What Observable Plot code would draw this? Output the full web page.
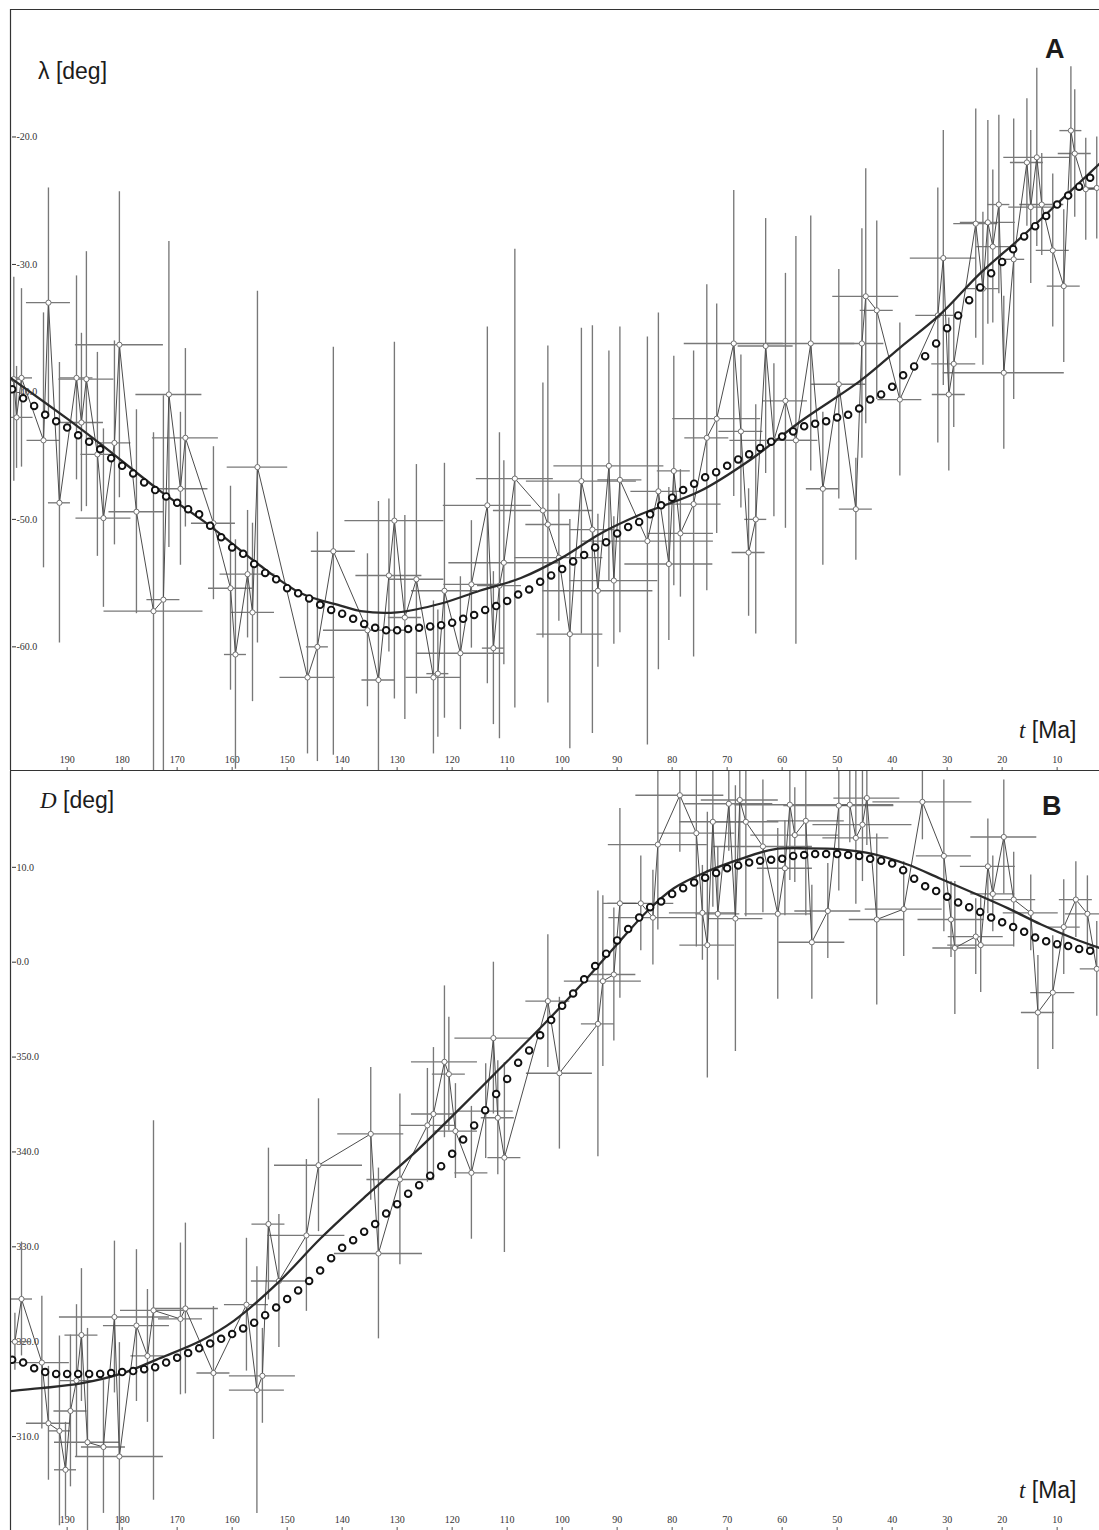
<!DOCTYPE html>
<html>
<head>
<meta charset="utf-8">
<script src="https://cdn.jsdelivr.net/npm/d3@7"></script>
<script src="https://cdn.jsdelivr.net/npm/@observablehq/plot@0.6"></script>
<style>
  html, body { margin: 0; padding: 0; background: #fff; overflow: hidden; }
  #wrap { position: relative; width: 1099px; height: 1530px; }
  .panel { position: absolute; left: 0; }
  .lbl { position: absolute; font-family: "Liberation Sans", Arial, sans-serif; color: #1c1c1c;
         white-space: nowrap; line-height: 1; z-index: 2; }
  .it { font-family: "Liberation Serif", "Times New Roman", serif; font-style: italic; }
  .tag { font-weight: bold; }
</style>
</head>
<body>
<div id="wrap">
  <div id="panelA" class="panel" style="top:0px"></div>
  <div id="panelB" class="panel" style="top:771px"></div>
  <div class="lbl" style="left:38px;top:60px;font-size:23px">λ [deg]</div>
  <div class="lbl tag" style="left:1045px;top:36px;font-size:27px">A</div>
  <div class="lbl" style="left:1019px;top:719px;font-size:23px"><span class="it">t</span> [Ma]</div>
  <div class="lbl" style="left:40px;top:789px;font-size:23px"><span class="it">D</span> [deg]</div>
  <div class="lbl tag" style="left:1042px;top:793px;font-size:27px">B</div>
  <div class="lbl" style="left:1019px;top:1479px;font-size:23px"><span class="it">t</span> [Ma]</div>
</div>
<script>
// ---- shared time axis (Ma, older to the left) ----
const ageDomain = [200.3, 2.3];
const ageTicks = [190, 180, 170, 160, 150, 140, 130, 120, 110, 100, 90, 80, 70, 60, 50, 40, 30, 20, 10];

// ---- panel A: palaeolatitude λ ----
const latDomain = [-69.7, -10];
const latTicks = [-20, -30, -40, -50, -60];

// observed poles: age, λ, age half-error, λ half-error
const ageA = [199.7,199.2,198.3,194.3,193.4,191.4,188.3,187.4,186.5,184.5,
  183.4,181.4,180.5,177.4,174.3,172.5,171.5,169.4,168.5,163.4,
  160.3,159.4,157.2,156.3,155.4,146.3,144.5,141.6,135.4,133.4,
  131.5,130.5,128.6,126.5,123.4,122.6,121.4,118.5,116.5,113.6,
  112.5,111.4,110.6,108.6,103.5,102.6,100.6,98.6,96.5,94.5,
  93.5,91.5,90.6,89.5,84.5,82.5,80.6,79.7,78.5,76.1,
  73.7,71.9,68.8,67.5,66.1,64.8,63.0,61.5,59.4,57.5,
  54.8,52.6,49.7,46.6,45.5,44.8,42.8,38.6,31.7,30.7,
  29.7,28.8,24.8,23.5,22.6,21.7,20.6,19.7,17.9,15.5,
  14.8,13.7,12.8,10.8,8.8,7.5,6.8,4.8,2.8];
const latA = [-39.0,-42.0,-38.9,-43.8,-33.0,-48.7,-38.9,-42.4,-39.0,-44.9,
  -49.9,-44.0,-36.3,-49.4,-57.2,-56.3,-40.2,-47.6,-43.6,-50.3,
  -55.4,-60.6,-54.3,-57.3,-45.9,-62.4,-60.0,-52.5,-58.7,-62.6,
  -54.4,-50.1,-57.7,-54.7,-62.4,-62.1,-55.6,-60.5,-55.1,-48.9,
  -60.1,-55.2,-53.4,-46.8,-49.3,-50.4,-53.0,-59.0,-47.0,-50.8,
  -55.6,-45.8,-54.8,-46.9,-51.7,-47.8,-53.5,-46.2,-51.1,-48.8,
  -43.6,-42.1,-36.2,-43.1,-52.6,-50.0,-36.4,-43.8,-40.7,-43.8,
  -36.2,-47.6,-39.4,-49.2,-36.2,-32.5,-33.6,-40.6,-34.0,-29.5,
  -40.2,-37.8,-26.8,-31.9,-26.7,-28.6,-25.3,-38.5,-29.6,-22.0,
  -25.5,-21.6,-25.3,-28.9,-31.7,-19.5,-21.3,-24.1,-24.0];
const ageErrA = [2,3,2,3,4,2,3,4,5,3,
  5,3,8,5,9,3,6,5,6,4,
  4,2,5,4,5.5,5,2,4,8,3,
  6,9,3,5,5,2,6,8,5,8,
  2,4,10,7,9,4,8,6,10,4,
  10,10,8,4,12,5,8,3,6,5,
  4,8,9,4,3,2,5,8,4,3,
  8,3,5,3,4,6,3,4,4,6,
  3,4,4,3,5,3,2,11,2,3,
  4,6,4,3,3,2,3,2,2];
const latErrA = [8,4,7,10,9,11,8,7,10,8,
  7,8,12,8,14,16,12,6,7,6,
  8,9,5,7,13.8,6,9,16,6,14,
  6,14,8,9,6,5,10,6,5,14,
  6,12,8,18,10,14,5,9,12,16,
  6,9,5,12,16,14,6,9,5,12,
  12,9,12,6,5,9,10,6,10,16,
  10,6,9,4,9,10,7,6,10,10,
  6,5,9,6,8,6,7,6,11,5,
  6,7,4,6,6,5,5,4,4];

// smoothed path λ(t)
const fitAgeA = [200.3,190,183.9,173,165,155,147.5,140,136.6,130,122,115,107.5,100,93,85.7,75,65.7,56.6,45.7,38.5,31.2,24,16.6,9.4,2.3];
const fitLatA = [-38.9,-42.1,-44.1,-47.8,-50.2,-53.6,-55.8,-56.8,-57.2,-57.3,-56.6,-55.6,-54.6,-53.0,-51.1,-49.6,-47.8,-45.3,-42.3,-39.1,-36.5,-33.9,-30.7,-27.9,-25.0,-22.1];

// model prediction, every 2 Ma
const modelAge = [200,198,196,194,192,190,188,186,184,182,180,178,176,174,172,170,168,166,164,162,
  160,158,156,154,152,150,148,146,144,142,140,138,136,134,132,130,128,126,124,122,
  120,118,116,114,112,110,108,106,104,102,100,98,96,94,92,90,88,86,84,82,
  80,78,76,74,72,70,68,66,64,62,60,58,56,54,52,50,48,46,44,42,
  40,38,36,34,32,30,28,26,24,22,20,18,16,14,12,10,8,6,4];
const modelLatA = [-39.8,-40.5,-41.1,-41.8,-42.3,-42.8,-43.4,-43.9,-44.5,-45.2,
  -45.8,-46.4,-47.1,-47.7,-48.2,-48.7,-49.2,-49.6,-50.5,-51.4,
  -52.2,-52.7,-53.5,-54.2,-54.7,-55.4,-55.8,-56.2,-56.7,-57.1,
  -57.4,-57.8,-58.2,-58.5,-58.7,-58.7,-58.6,-58.5,-58.4,-58.3,
  -58.1,-57.8,-57.5,-57.1,-56.8,-56.4,-55.9,-55.5,-54.9,-54.4,
  -53.9,-53.3,-52.8,-52.2,-51.8,-51.1,-50.6,-50.2,-49.6,-48.9,
  -48.3,-47.7,-47.2,-46.7,-46.3,-45.8,-45.3,-44.9,-44.4,-43.9,
  -43.5,-43.1,-42.7,-42.5,-42.3,-42.0,-41.8,-41.3,-40.6,-40.2,
  -39.6,-38.7,-38.0,-37.2,-36.2,-35.0,-34.0,-32.8,-31.8,-30.7,
  -29.8,-28.8,-27.8,-27.0,-26.2,-25.3,-24.6,-23.9,-23.2];

// ---- panel B: declination D (0–360, shown continuous across north) ----
const decDomain = [300.1, 380.1];
const decTicks = [310, 320, 330, 340, 350, 360, 370];

const ageB = [199.5,198.3,194.6,193.4,191.4,190.3,189.4,188.3,187.4,186.3,
  183.4,181.4,180.5,177.4,175.4,174.3,169.4,168.5,163.4,157.4,
  155.5,154.5,153.4,151.5,146.5,144.3,134.8,133.4,129.5,124.5,
  123.4,121.4,120.6,119.4,116.5,113.9,112.5,111.7,110.5,102.6,
  100.5,93.5,92.6,90.6,89.5,85.7,83.5,82.6,78.6,75.6,
  74.5,73.6,72.6,71.7,69.7,68.5,67.7,66.6,63.5,60.8,
  59.5,58.6,57.7,55.7,54.6,51.7,49.7,47.7,46.6,45.4,
  44.6,42.8,37.9,34.5,30.6,29.3,28.6,24.8,23.9,22.6,
  21.7,19.7,17.9,14.8,13.5,10.8,8.8,6.6,4.5,2.8];
const decB = [320.0,324.5,317.8,311.4,310.6,306.5,312.7,315.9,320.7,309.4,
  308.9,322.6,307.9,321.7,318.5,323.3,322.4,323.5,316.7,323.9,
  314.9,316.4,332.4,326.4,331.2,338.6,341.9,329.3,337.1,342.8,
  344.0,349.5,348.2,342.2,337.8,344.3,352.0,343.6,339.4,355.9,
  348.3,353.5,358.0,358.7,6.2,6.2,4.7,12.4,17.6,13.6,
  5.2,1.8,14.8,5.1,16.7,4.6,17.1,14.8,12.2,5.1,
  9.9,16.6,13.4,14.9,2.1,5.4,16.5,16.6,13.1,14.5,
  17.3,4.5,5.6,16.9,11.2,4.5,1.5,2.7,1.8,10.1,
  7.2,13.2,6.6,5.2,354.7,356.8,3.7,6.6,5.1,359.3];
const ageErrB = [3,2,5,4,2,2,3,3,3,6,
  4,10,8,6,3,6,4,6,3,4,
  5,6,3,5,7,8,6,8,6,5,
  4,6,3,4,3,5,7,3,3,4,
  6,3,7,4,3,6,8,9,8,7,
  6,5,6,4,8,5,7,6,9,6,
  5,10,8,7,6,6,10,8,6,9,
  6,5,7,9,5,6,4,5,6,5,
  4,6,4,5,3,4,3,3,4,3];
const decErrB = [3,6,7,6,10,5,8,8,7,12,
  7,8,12,8,7,20,8,9,7,7,
  13,5,8,7,8,7,7,9,9,6,
  7,8,6,5,7,5,8,6,10,7,
  8,14,9,7,10,5,5,9,6,12,
  5,14,9,7,5,14,7,10,7,9,
  5,8,5,10,6,5,9,4,7,6,
  5,9,5,4,8,4,7,4,5,5,
  4,6,5,4,6,6,5,4,4,5];

const fitAgeB = [200.3,194.8,187.5,180.3,173,165.7,159.7,151.7,143.9,135.4,126.3,120.8,112.5,103.4,96.6,90.6,84.5,79.7,73.5,67.5,61.5,55.4,49.4,43.4,37.2,31.2,25.2,19,13,7,2.3];
const fitDecB = [314.8,315.1,315.6,316.6,318.3,320.1,322.2,326.2,330.9,335.5,340.2,343.3,348.1,353.4,357.6,1.5,5.4,7.8,9.6,10.9,11.9,12.0,11.9,11.4,10.3,8.8,7.3,5.7,4.0,2.5,1.5];

const modelDecB = [318.1,317.8,317.2,316.8,316.6,316.6,316.6,316.6,316.6,316.7,
  316.8,316.9,317.1,317.3,317.8,318.3,318.8,319.3,319.8,320.3,
  320.8,321.4,322.0,322.8,323.6,324.5,325.4,326.4,327.5,328.8,
  329.9,330.7,331.6,332.4,333.5,334.5,335.6,336.5,337.5,338.5,
  339.8,341.3,342.8,344.4,346.1,347.7,349.4,350.7,352.3,353.9,
  355.4,356.7,358.2,359.6,0.9,2.3,3.5,4.7,5.8,6.4,
  7.2,7.8,8.4,8.9,9.4,9.9,10.2,10.5,10.7,10.8,
  10.9,11.2,11.3,11.4,11.4,11.4,11.3,11.2,10.9,10.7,
  10.4,9.7,8.8,8.0,7.5,6.9,6.3,5.8,5.3,4.7,
  4.2,3.7,3.2,2.6,2.2,1.9,1.7,1.4,1.2];

// ---- drawing ----
const serif = "'Liberation Serif', 'Times New Roman', serif";
const unwrapDec = d => (d < 180 ? d + 360 : d);
const keep = d => d;

function panel({ages, vals, ageErr, valErr, fitAge, fitVal, modelVals, yDomain, yTicks, yFormat,
                 norm, height, marginTop, marginBottom, topRule}) {
  const obs = ages.map((t, i) => ({t, v: norm(vals[i]), dt: ageErr[i], dv: valErr[i]}));
  const fit = fitAge.map((t, i) => ({t, v: norm(fitVal[i])}));
  const model = modelAge.map((t, i) => ({t, v: norm(modelVals[i])}));
  const marks = [
    Plot.axisY(yTicks, {anchor: "left", tickSize: -4, tickPadding: 0, dx: 2, textAnchor: "start",
      tickFormat: yFormat, fontSize: 10, fontFamily: serif, fill: "#333", stroke: "#333", label: null}),
    Plot.axisX(ageTicks, {anchor: "bottom", tickSize: -3, tickFormat: () => "", stroke: "#555", label: null}),
    Plot.text(ageTicks, {x: d => d, frameAnchor: "bottom", dy: -8, text: d => String(d),
      fontSize: 10, fontFamily: serif, fill: "#333"}),
    // error crosses
    Plot.ruleX(obs, {x: "t", y1: d => d.v - d.dv, y2: d => d.v + d.dv, stroke: "#787878", strokeWidth: 1.35, clip: true}),
    Plot.ruleY(obs, {y: "v", x1: d => d.t + d.dt, x2: d => d.t - d.dt, stroke: "#787878", strokeWidth: 1.35, clip: true}),
    // observed series joined in age order
    Plot.line(obs, {x: "t", y: "v", stroke: "#4d4d4d", strokeWidth: 1, clip: true}),
    Plot.dot(obs, {x: "t", y: "v", r: 2.6, fill: "white", stroke: "#707070", strokeWidth: 1, clip: true}),
    // smoothed path
    Plot.line(fit, {x: "t", y: "v", curve: "catmull-rom", stroke: "#2a2a2a", strokeWidth: 2.3, clip: true}),
    // model prediction
    Plot.dot(model, {x: "t", y: "v", r: 3.3, fill: "white", stroke: "#111", strokeWidth: 1.9, clip: true}),
    // frame edges
    Plot.ruleX([ageDomain[0]], {stroke: "#333", strokeWidth: 1.2}),
    Plot.ruleY([yDomain[0]], {stroke: "#333", strokeWidth: 1.2})
  ];
  if (topRule) marks.push(Plot.ruleY([yDomain[1]], {stroke: "#333", strokeWidth: 1.2}));
  return Plot.plot({
    width: 1099, height, marginLeft: 10, marginRight: 0, marginTop, marginBottom,
    x: {domain: ageDomain},
    y: {domain: yDomain},
    style: {background: "transparent", fontFamily: serif},
    marks
  });
}

document.getElementById("panelA").append(panel({
  ages: ageA, vals: latA, ageErr: ageErrA, valErr: latErrA,
  fitAge: fitAgeA, fitVal: fitLatA, modelVals: modelLatA,
  yDomain: latDomain, yTicks: latTicks, yFormat: d => d.toFixed(1),
  norm: keep, height: 771, marginTop: 9, marginBottom: 1, topRule: true
}));

document.getElementById("panelB").append(panel({
  ages: ageB, vals: decB, ageErr: ageErrB, valErr: decErrB,
  fitAge: fitAgeB, fitVal: fitDecB, modelVals: modelDecB,
  yDomain: decDomain, yTicks: decTicks, yFormat: d => (d % 360).toFixed(1),
  norm: unwrapDec, height: 759, marginTop: 0, marginBottom: 0, topRule: false
}));
</script>
</body>
</html>
